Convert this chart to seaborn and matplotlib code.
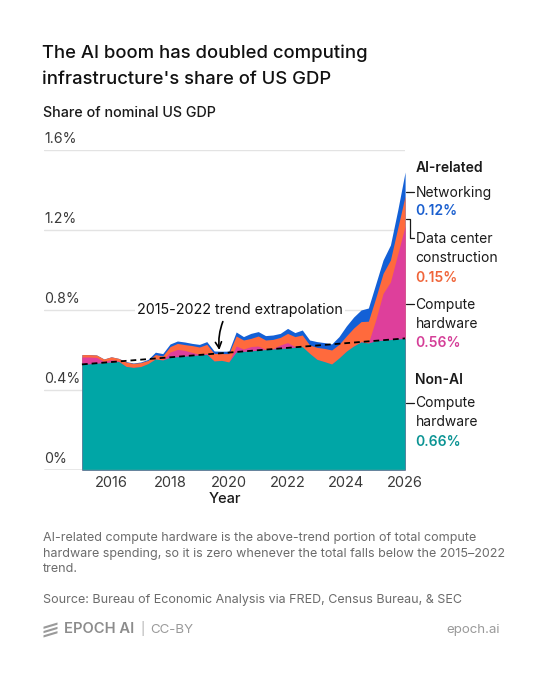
import numpy as np
import matplotlib
matplotlib.use("Agg")
import matplotlib.pyplot as plt
import seaborn as sns
from matplotlib.patches import FancyArrowPatch, Polygon

# ---------------- data (share of nominal US GDP, %) ----------------
year = [2015.00, 2015.25, 2015.50, 2015.75, 2016.00, 2016.25, 2016.50, 2016.75,
        2017.00, 2017.25, 2017.50, 2017.75, 2018.00, 2018.25, 2018.50, 2018.75,
        2019.00, 2019.25, 2019.50, 2019.75, 2020.00, 2020.25, 2020.50, 2020.75,
        2021.00, 2021.25, 2021.50, 2021.75, 2022.00, 2022.25, 2022.50, 2022.75,
        2023.00, 2023.25, 2023.50, 2023.75, 2024.00, 2024.25, 2024.50, 2024.75,
        2025.00, 2025.25, 2025.50, 2025.75, 2026.00]

compute_hardware_total = [0.565, 0.565, 0.563, 0.543, 0.552, 0.545, 0.518, 0.513,
                          0.517, 0.532, 0.555, 0.550, 0.590, 0.603, 0.598, 0.588,
                          0.578, 0.583, 0.545, 0.548, 0.540, 0.620, 0.605, 0.617,
                          0.620, 0.603, 0.607, 0.625, 0.637, 0.617, 0.617, 0.583,
                          0.553, 0.542, 0.530, 0.560, 0.594, 0.620, 0.642, 0.635,
                          0.750, 0.883, 0.940, 1.080, 1.220]

data_center_construction = [0.012, 0.012, 0.012, 0.012, 0.014, 0.013, 0.022, 0.020,
                            0.020, 0.016, 0.022, 0.020, 0.027, 0.030, 0.029, 0.034,
                            0.037, 0.045, 0.038, 0.034, 0.042, 0.050, 0.045, 0.041,
                            0.050, 0.047, 0.046, 0.038, 0.046, 0.050, 0.058, 0.042,
                            0.060, 0.066, 0.070, 0.068, 0.076, 0.090, 0.100, 0.109,
                            0.110, 0.100, 0.110, 0.130, 0.150]

networking = [0.000, 0.000, 0.000, 0.000, 0.000, 0.000, 0.002, 0.002,
              0.003, 0.005, 0.012, 0.012, 0.013, 0.012, 0.013, 0.011,
              0.013, 0.014, 0.012, 0.012, 0.012, 0.020, 0.017, 0.025,
              0.022, 0.022, 0.022, 0.020, 0.025, 0.020, 0.025, 0.025,
              0.029, 0.029, 0.030, 0.039, 0.050, 0.055, 0.058, 0.066,
              0.070, 0.067, 0.075, 0.090, 0.120]

trend_years = [2015.0, 2026.0]
trend_values = [0.528, 0.658]

y_ticks = [0.0, 0.4, 0.8, 1.2, 1.6]
y_tick_labels = ["0%", "0.4%", "0.8%", "1.2%", "1.6%"]
x_ticks = [2016, 2018, 2020, 2022, 2024, 2026]

# ---------------- derived layers ----------------
yr = np.array(year)
total_ch = np.array(compute_hardware_total)
trend_at = np.interp(yr, trend_years, trend_values)
non_ai = np.minimum(total_ch, trend_at)
ai_compute = np.maximum(total_ch - trend_at, 0)
dc = np.array(data_center_construction)
net = np.array(networking)

c_teal = "#00A6A6"
c_pink = "#DE3F9B"
c_orange = "#FF6A3D"
c_blue = "#1360D6"

# ---------------- figure ----------------
sns.set_theme(style="white")
plt.rcParams["font.family"] = ["Inter", "DejaVu Sans"]

W, H = 544, 680
fig = plt.figure(figsize=(W / 100, H / 100), dpi=100)
fig.patch.set_facecolor("white")

def fx(x):
    return x / W

def fy(y):
    return 1 - y / H

ax_left, ax_right, ax_top, ax_bot = 44, 405.1, 150, 470
ax = fig.add_axes([fx(ax_left), fy(ax_bot), (ax_right - ax_left) / W, (ax_bot - ax_top) / H])
px_per_year = 29.375
x0 = 2015 - (81.9 - ax_left) / px_per_year
ax.set_xlim(x0, 2026.0)
ax.set_ylim(0, 1.6)
for s in ax.spines.values():
    s.set_visible(False)

# gridlines
for v in y_ticks[1:]:
    ax.axhline(v, color="#E3E3E3", lw=1.0, zorder=0)
ax.axhline(0, color="#8E8E8E", lw=1.0, zorder=5)

# stacked areas (cumulative fills from zero to avoid seams)
lvl1 = non_ai
lvl2 = lvl1 + ai_compute
lvl3 = lvl2 + dc
lvl4 = lvl3 + net
ax.fill_between(yr, 0, lvl4, color=c_blue, lw=0, zorder=1)
ax.fill_between(yr, 0, lvl3, color=c_orange, lw=0, zorder=1.1)
ax.fill_between(yr, 0, lvl2, color=c_pink, lw=0, zorder=1.2)
ax.fill_between(yr, 0, lvl1, color=c_teal, lw=0, zorder=1.3)

sns.lineplot(x=trend_years, y=trend_values, ax=ax, color="black",
             linestyle=(0, (3.2, 2.2)), lw=1.3, zorder=3)

# y tick labels (inside, above gridline)
for v, lab in zip(y_ticks, y_tick_labels):
    ax.annotate(lab, xy=(0, v), xycoords=("axes fraction", "data"),
                xytext=(0, 3.0), textcoords="offset points",
                ha="left", va="bottom", fontsize=10.2, color="#3a3a3a")
ax.set_yticks([])

ax.set_xticks(x_ticks)
ax.set_xticklabels([str(t) for t in x_ticks], fontsize=10.5, color="#3a3a3a")
ax.tick_params(axis="x", length=0, pad=4.0)
ax.set_xlabel("Year", fontsize=10.5, fontweight="medium", color="#1a1a1a", labelpad=2)

# trend annotation
ax.text(2015 + (240 - 81.9) / px_per_year, 0.8, "2015-2022 trend extrapolation",
        ha="center", va="center", fontsize=10.3, color="#111111", zorder=6,
        bbox=dict(facecolor="white", edgecolor="none", pad=1.2))
arr = FancyArrowPatch((2015 + (222.8 - 81.9) / px_per_year, 0.742),
                      (2015 + (219.3 - 81.9) / px_per_year, 0.600),
                      connectionstyle="arc3,rad=0.12", arrowstyle="->",
                      mutation_scale=11, lw=1.2, color="black", zorder=7,
                      shrinkA=0, shrinkB=0)
ax.add_patch(arr)

# ---------------- right-hand labels ----------------
lx = 415.5
def rtext(y, s, color="#1a1a1a", weight="normal"):
    fig.text(fx(lx), fy(y), s, ha="left", va="baseline", fontsize=10,
             color=color, fontweight=weight)

rtext(171.7, "AI-related", weight="semibold")
rtext(196.5, "Networking")
rtext(215.0, "0.12%", color="#1A5FCF", weight="semibold")
rtext(243.0, "Data center")
rtext(262.0, "construction")
rtext(281.5, "0.15%", color="#F0653A", weight="semibold")
rtext(309.0, "Compute")
rtext(328.0, "hardware")
rtext(347.0, "0.56%", color="#D53F98", weight="semibold")
rtext(384.5, "Non-AI", weight="semibold")
rtext(407.5, "Compute")
rtext(426.5, "hardware")
rtext(446.5, "0.66%", color="#0C9494", weight="semibold")

def fline(xs, ys):
    fig.add_artist(plt.Line2D([fx(v) for v in xs], [fy(v) for v in ys],
                              color="#1a1a1a", lw=0.9))

fline([406, 414], [191.7, 191.7])
fline([406, 409.5, 409.5, 414], [218.5, 218.5, 237.5, 237.5])
fline([406, 414], [304, 304])
fline([406, 414], [402.7, 402.7])

# ---------------- titles ----------------
fig.text(fx(42.5), fy(58.3), "The AI boom has doubled computing", fontsize=13.3,
         fontweight="medium", color="#111111", va="baseline")
fig.text(fx(42.5), fy(83.5), "infrastructure's share of US GDP", fontsize=13.3,
         fontweight="medium", color="#111111", va="baseline")
fig.text(fx(43), fy(117.3), "Share of nominal US GDP", fontsize=10.3,
         fontweight="medium", color="#1a1a1a", va="baseline")

# ---------------- footnotes ----------------
note_col = "#6b6b6b"
notes = ["AI-related compute hardware is the above-trend portion of total compute",
         "hardware spending, so it is zero whenever the total falls below the 2015\u20132022",
         "trend."]
for i, line in enumerate(notes):
    fig.text(fx(43), fy(541.3 + 15.3 * i), line, fontsize=9.0, color=note_col, va="baseline")
fig.text(fx(43), fy(602.7), "Source: Bureau of Economic Analysis via FRED, Census Bureau, & SEC",
         fontsize=9.0, color=note_col, va="baseline")

# footer logo (three slanted bars)
logo_col = "#9a9a9a"
for k in range(3):
    yb = 623.5 + 4.3 * k
    pts = [(43.5, yb + 3.2), (57.5, yb - 1.0), (57.5, yb + 1.2), (43.5, yb + 5.4)]
    fig.add_artist(Polygon([(fx(a), fy(b)) for a, b in pts], closed=True,
                           facecolor=logo_col, edgecolor="none"))
fig.text(fx(64.5), fy(633.3), "EPOCH AI", fontsize=10.6, fontweight="semibold",
         color="#8c8c8c", va="baseline")
fig.text(fx(140), fy(633.3), "|", fontsize=9.5, color="#b0b0b0", va="baseline")
fig.text(fx(150.5), fy(633.3), "CC-BY", fontsize=9.6, color="#9a9a9a", va="baseline")
fig.text(fx(499.5), fy(633.3), "epoch.ai", fontsize=9.6, color="#9a9a9a",
         va="baseline", ha="right")

fig.savefig("out.png", dpi=100, facecolor="white")
